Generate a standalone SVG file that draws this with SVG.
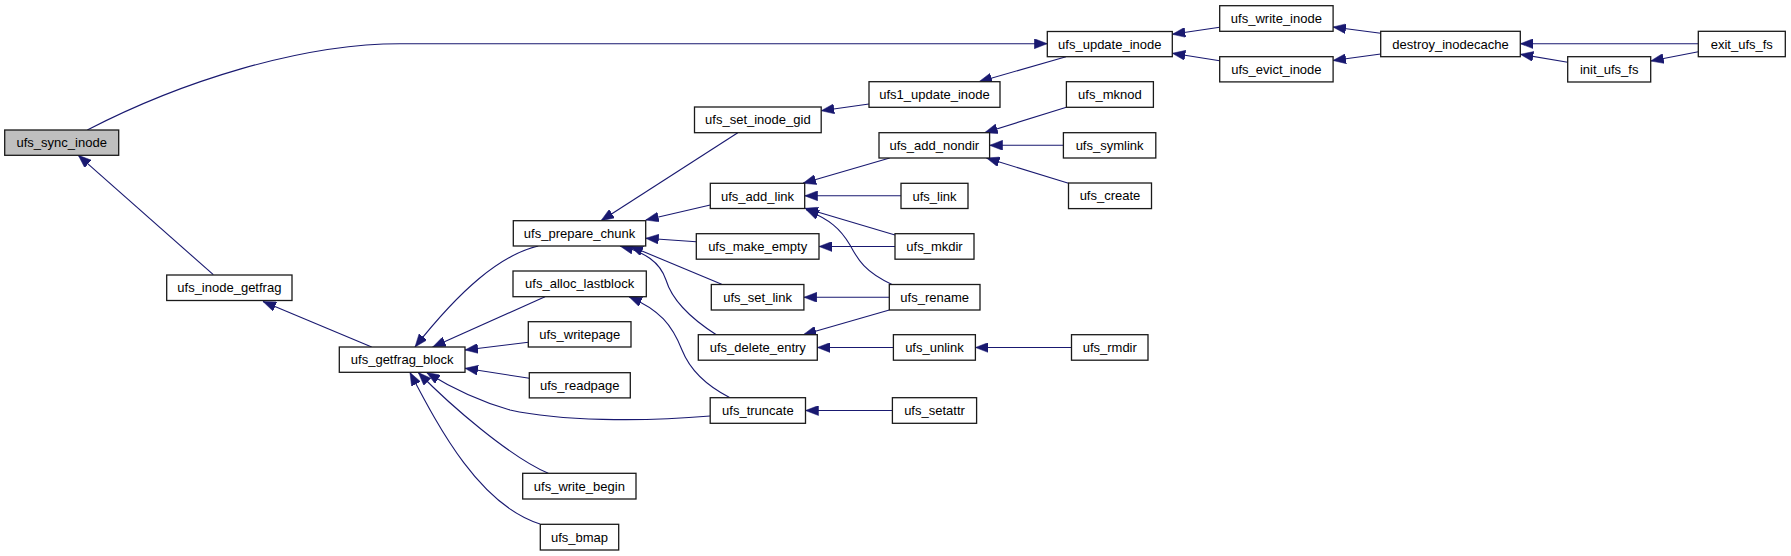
<svg xmlns="http://www.w3.org/2000/svg" width="1791" height="556" viewBox="0 0 1791 556">
<style>
.n rect{fill:#ffffff;stroke:#1a1a1a;stroke-width:1.3}
.n.root rect{fill:#bfbfbf}
.n text{font-family:"Liberation Sans",Arial,sans-serif;font-size:13px;fill:#000000;text-anchor:middle}
#edges path{fill:none;stroke:#191970;stroke-width:1.1;marker-end:url(#arr)}
</style>
<defs>
<marker id="arr" markerUnits="userSpaceOnUse" viewBox="0 0 13 10" refX="13" refY="5" markerWidth="13" markerHeight="10" orient="auto">
<path d="M0,0 L13,5 L0,10 Z" fill="#191970" stroke="#191970" stroke-width="0.5"/>
</marker>
</defs>
<rect width="1791" height="556" fill="#ffffff"/>
<g id="edges">
<path d="M87.3,130 C180,82 300,43.7 400,43.7 L1047.3,43.7"/>
<path d="M213.3,274.7 L78.3,155.3"/>
<path d="M371.7,347 L263,301.5"/>
<path d="M538.3,246 C500,255 460,290 415,347"/>
<path d="M545,296.7 L432.7,347"/>
<path d="M528.3,342.3 L465,350"/>
<path d="M529.3,378.3 L465,368.3"/>
<path d="M710.2,416 C640,422 560,421 510,410 C475,400 450,387 426.7,372.5"/>
<path d="M548.3,473.3 C510,457 450,405 418.3,372.5"/>
<path d="M540,524 C480,505 440,430 410,372.5"/>
<path d="M737.8,132.7 L601,220.7"/>
<path d="M710.3,205 L645.7,220"/>
<path d="M696.3,241.7 L645.7,238.3"/>
<path d="M721.7,284.3 L630,246"/>
<path d="M716.7,335 C690,318 672,300 666,280 C660,262 645,252 620,246"/>
<path d="M730,397.7 C705,385 690,370 682,350 C672,325 660,310 629,296.7"/>
<path d="M869,104 L821.2,110.7"/>
<path d="M1066,56.7 L979,81.7"/>
<path d="M889.7,158 L803,183.3"/>
<path d="M901,195.8 L804.7,195.8"/>
<path d="M895,235 L805,208.3"/>
<path d="M892,284.5 C865,272 858,260 850,245 C840,228 830,220 806,209.5"/>
<path d="M895,246.5 L819,246.5"/>
<path d="M889.3,297.3 L803.9,297.3"/>
<path d="M889.3,310 L803.3,334.7"/>
<path d="M893.4,347.5 L817.3,347.5"/>
<path d="M892.4,410.5 L805.5,410.5"/>
<path d="M1066.4,107.3 L984.6,132.7"/>
<path d="M1063.4,145.3 L989.6,145.3"/>
<path d="M1068.5,183.3 L986.5,158"/>
<path d="M1071.5,347.5 L975.4,347.5"/>
<path d="M1219.7,27.3 L1172.3,34.3"/>
<path d="M1219.7,60.7 L1172.3,53.3"/>
<path d="M1380.7,33.3 L1333,27"/>
<path d="M1380.7,54 L1333,60.5"/>
<path d="M1698.3,43.7 L1520.3,43.7"/>
<path d="M1567.7,62.3 L1520.3,54.3"/>
<path d="M1698.3,51.7 L1650.7,61"/>
</g>
<g id="ufs_sync_inode" class="n root"><rect x="4.7" y="130" width="114" height="25.3"/><text x="61.7" y="147.2">ufs_sync_inode</text></g>
<g id="ufs_inode_getfrag" class="n"><rect x="166.7" y="275" width="125.3" height="25.5"/><text x="229.35" y="292.3">ufs_inode_getfrag</text></g>
<g id="ufs_getfrag_block" class="n"><rect x="339.3" y="347" width="125.7" height="25.3"/><text x="402.15" y="364.2">ufs_getfrag_block</text></g>
<g id="ufs_prepare_chunk" class="n"><rect x="513.3" y="220.7" width="132.4" height="25.3"/><text x="579.5" y="237.9">ufs_prepare_chunk</text></g>
<g id="ufs_alloc_lastblock" class="n"><rect x="513" y="271" width="133.3" height="25.7"/><text x="579.65" y="288.4">ufs_alloc_lastblock</text></g>
<g id="ufs_writepage" class="n"><rect x="528.3" y="321.7" width="102.7" height="25.3"/><text x="579.65" y="338.9">ufs_writepage</text></g>
<g id="ufs_readpage" class="n"><rect x="529.3" y="372.7" width="101" height="25.2"/><text x="579.8" y="389.9">ufs_readpage</text></g>
<g id="ufs_write_begin" class="n"><rect x="522.7" y="473.3" width="113.3" height="25.7"/><text x="579.35" y="490.7">ufs_write_begin</text></g>
<g id="ufs_bmap" class="n"><rect x="540.3" y="524.3" width="78.4" height="25.7"/><text x="579.5" y="541.7">ufs_bmap</text></g>
<g id="ufs_set_inode_gid" class="n"><rect x="694.5" y="107" width="126.7" height="25.7"/><text x="757.85" y="124.4">ufs_set_inode_gid</text></g>
<g id="ufs_add_link" class="n"><rect x="710.3" y="183.3" width="94.4" height="25.2"/><text x="757.5" y="200.5">ufs_add_link</text></g>
<g id="ufs_make_empty" class="n"><rect x="696.3" y="233.7" width="122.7" height="25.5"/><text x="757.65" y="251">ufs_make_empty</text></g>
<g id="ufs_set_link" class="n"><rect x="711.3" y="284.5" width="92.6" height="25.5"/><text x="757.6" y="301.8">ufs_set_link</text></g>
<g id="ufs_delete_entry" class="n"><rect x="698.3" y="334.7" width="119" height="25.5"/><text x="757.8" y="352">ufs_delete_entry</text></g>
<g id="ufs_truncate" class="n"><rect x="710.2" y="397.7" width="95.3" height="25.6"/><text x="757.85" y="415">ufs_truncate</text></g>
<g id="ufs1_update_inode" class="n"><rect x="869" y="81.7" width="131" height="25.6"/><text x="934.5" y="99">ufs1_update_inode</text></g>
<g id="ufs_add_nondir" class="n"><rect x="879" y="132.7" width="110.6" height="25.3"/><text x="934.3" y="149.9">ufs_add_nondir</text></g>
<g id="ufs_link" class="n"><rect x="901" y="183.3" width="67" height="25.2"/><text x="934.5" y="200.5">ufs_link</text></g>
<g id="ufs_mkdir" class="n"><rect x="895" y="233.7" width="79" height="25.5"/><text x="934.5" y="251">ufs_mkdir</text></g>
<g id="ufs_rename" class="n"><rect x="889.3" y="284.5" width="90.7" height="25.5"/><text x="934.65" y="301.8">ufs_rename</text></g>
<g id="ufs_unlink" class="n"><rect x="893.4" y="334.7" width="82" height="25.5"/><text x="934.4" y="352">ufs_unlink</text></g>
<g id="ufs_setattr" class="n"><rect x="892.4" y="397.7" width="84.2" height="25.6"/><text x="934.5" y="415">ufs_setattr</text></g>
<g id="ufs_update_inode" class="n"><rect x="1047.3" y="31.5" width="125" height="25.2"/><text x="1109.8" y="48.7">ufs_update_inode</text></g>
<g id="ufs_mknod" class="n"><rect x="1066.4" y="81.7" width="87" height="25.6"/><text x="1109.9" y="99">ufs_mknod</text></g>
<g id="ufs_symlink" class="n"><rect x="1063.4" y="132.7" width="92.4" height="25.3"/><text x="1109.6" y="149.9">ufs_symlink</text></g>
<g id="ufs_create" class="n"><rect x="1068.5" y="183" width="83" height="25.6"/><text x="1110" y="200.4">ufs_create</text></g>
<g id="ufs_rmdir" class="n"><rect x="1071.5" y="334.7" width="76.5" height="25.5"/><text x="1109.75" y="352">ufs_rmdir</text></g>
<g id="ufs_write_inode" class="n"><rect x="1219.7" y="5.7" width="113.4" height="25.6"/><text x="1276.4" y="23">ufs_write_inode</text></g>
<g id="ufs_evict_inode" class="n"><rect x="1219.7" y="56.7" width="113.4" height="25.2"/><text x="1276.4" y="73.9">ufs_evict_inode</text></g>
<g id="destroy_inodecache" class="n"><rect x="1380.7" y="31.3" width="139.6" height="25.4"/><text x="1450.5" y="48.6">destroy_inodecache</text></g>
<g id="init_ufs_fs" class="n"><rect x="1567.7" y="56.7" width="83" height="25.3"/><text x="1609.2" y="73.9">init_ufs_fs</text></g>
<g id="exit_ufs_fs" class="n"><rect x="1698.3" y="31.3" width="87" height="25.4"/><text x="1741.8" y="48.6">exit_ufs_fs</text></g>
</svg>
